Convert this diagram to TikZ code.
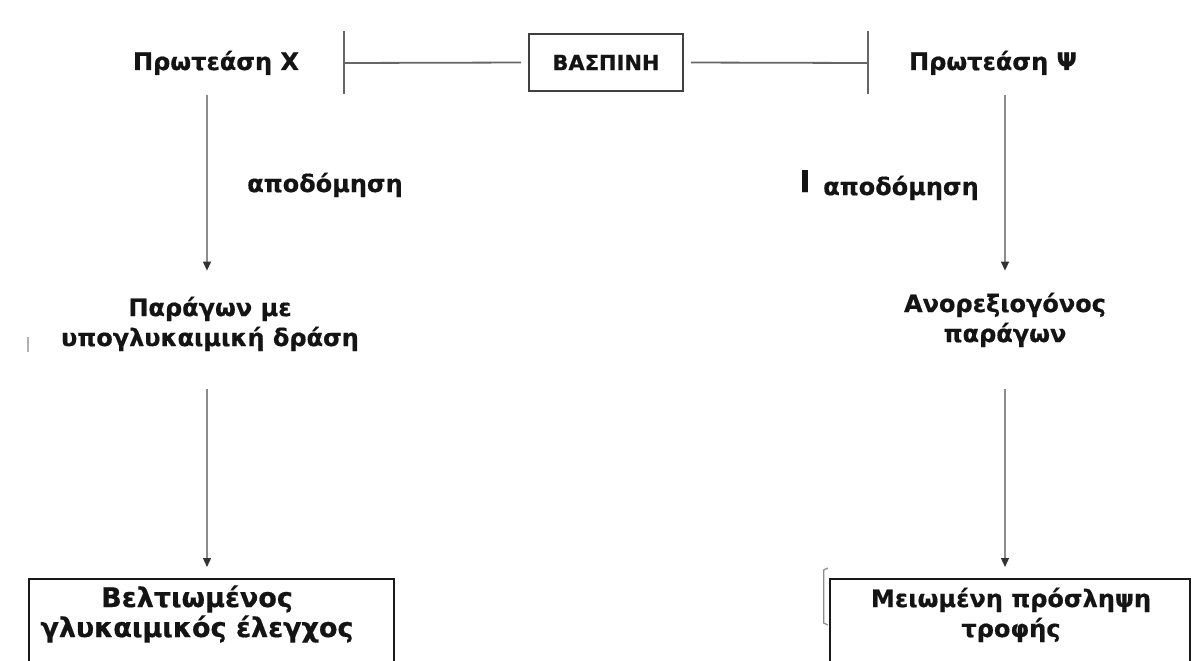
\documentclass[tikz,border=0pt]{standalone}
\usepackage{fontspec}
\setmainfont{DejaVu Sans}[BoldFeatures={FakeBold=0.6}]
\usetikzlibrary{arrows.meta}
\begin{document}
\begin{tikzpicture}[x=1pt,y=-1pt,
  lbl/.style={font=\bfseries\fontsize{24}{30}\selectfont, text=black!92, inner sep=0pt, align=center, anchor=base},
  arr/.style={draw=black!45, line width=1.3pt, -{Triangle[length=9pt,width=8pt,color=black!80]}},
  tline/.style={draw=black!60, line width=1.8pt},
  outbox/.style={draw=black!90, line width=2.4pt, rectangle, inner sep=0pt, anchor=north},
]
  \useasboundingbox (0,0) rectangle (1192,661);
  \clip (0,0) rectangle (1192,661);
  \fill[white] (0,0) rectangle (1192,661);

  % column axes for the vertical arrows
  \coordinate (colL) at (207,0);
  \coordinate (colR) at (1005,0);
  \coordinate (barL) at (344,63);
  \coordinate (barR) at (868,63);

  % top row: the two proteases and the inhibitor between them
  \node[lbl] (pX) at (216,70) {Πρωτεάση Χ};
  \node[lbl] (pPsi) at (993,70) {Πρωτεάση Ψ};
  \node[draw=black!75, line width=1.8pt, rectangle, minimum width=154pt, minimum height=57pt,
        inner sep=0pt, font=\bfseries\fontsize{21}{25}\selectfont, text=black!92] (bas) at (606,62.5) {ΒΑΣΠΙΝΗ};

  \draw[tline, shorten <=7pt] (bas.west) -- (barL);
  \draw[tline, shorten <=7pt] (bas.east) -- (barR);
  \draw[tline] ([yshift=-31pt]barL) -- ([yshift=32pt]barL);
  \draw[tline] ([yshift=-31pt]barR) -- ([yshift=32pt]barR);

  % degradation labels
  \node[lbl] (dL) at (325,192) {αποδόμηση};
  \node[lbl, font=\bfseries\fontsize{30}{30}\selectfont] (iR) at (805,192) {I};
  \node[lbl] (dR) at (901,195) {αποδόμηση};

  % products of degradation (base anchor sits on the last line)
  \node[lbl] (mL) at (210,346) {Παράγων με\\υπογλυκαιμική δράση};
  \node[lbl] (mR) at (1005,342) {Ανορεξιογόνος\\παράγων};

  % outcome boxes
  \node[outbox, minimum width=365pt, minimum height=120pt] (bL) at (211.5,578) {};
  \node[outbox, minimum width=360pt, minimum height=120pt] (bR) at (1010,578) {};
  \node[lbl, font=\bfseries\fontsize{27}{30}\selectfont] (tL) at (197,637) {Βελτιωμένος\\γλυκαιμικός έλεγχος};
  \node[lbl] (tR) at (1011,637) {Μειωμένη πρόσληψη\\τροφής};
  \draw[draw=black!45, line width=1.2pt] ([xshift=-1pt,yshift=10pt]bR.north west) -- ++(-4,2) -- ++(0,53) -- ++(4,2);

  % small stray tick at the left margin
  \draw[draw=black!30, line width=2pt] (28,337) -- (28,352);

  % vertical arrows
  \draw[arr, shorten <=19.5pt, shorten >=26pt] (pX.south -| colL) -- (mL.north -| colL);
  \draw[arr, shorten <=38pt, shorten >=11pt] (mL.south -| colL) -- (bL.north -| colL);
  \draw[arr, shorten <=19.5pt, shorten >=22pt] (pPsi.south -| colR) -- (mR.north -| colR);
  \draw[arr, shorten <=42pt, shorten >=11pt] (mR.south -| colR) -- (bR.north -| colR);
\end{tikzpicture}
\end{document}
